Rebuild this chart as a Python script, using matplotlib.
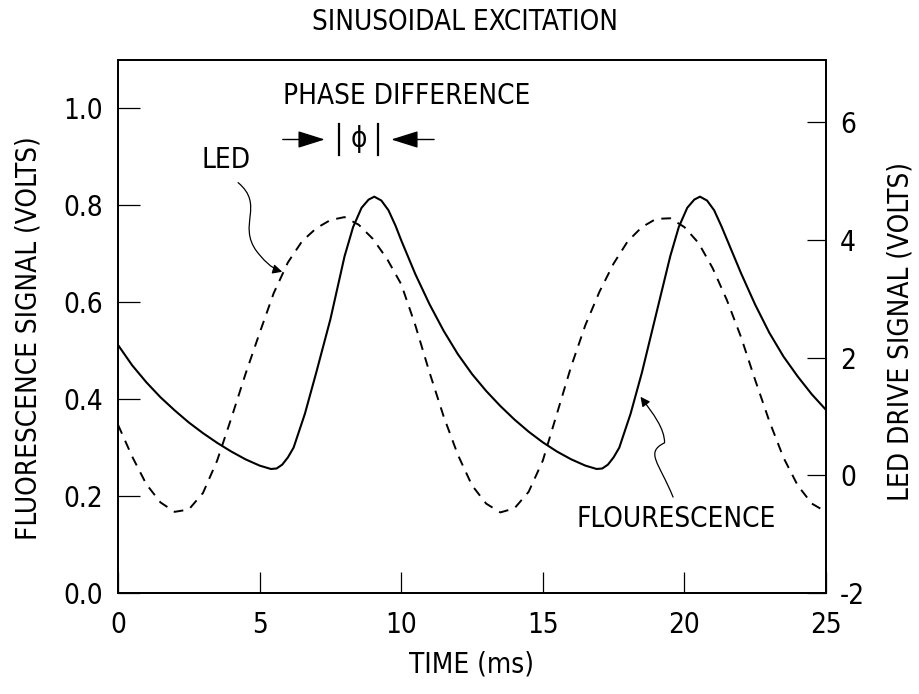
import matplotlib
matplotlib.use("Agg")
import matplotlib.pyplot as plt
from matplotlib import font_manager
from matplotlib.patches import FancyArrowPatch
from matplotlib.path import Path

# fluorescence signal (left axis, volts)
t_fl = [0.0, 0.5, 1.0, 1.5, 2.0, 2.5, 3.0, 3.5, 4.0, 4.5, 5.0, 5.4, 5.6, 5.8, 6.0,
        6.2, 6.6, 7.0, 7.5, 8.0, 8.3, 8.6, 8.85, 9.05, 9.3, 9.55, 9.8, 10.0, 10.5,
        11.0, 11.5, 12.0, 12.5, 13.0, 13.5, 14.0, 14.5, 15.0, 15.5, 16.0, 16.5, 16.9,
        17.1, 17.3, 17.5, 17.7, 18.1, 18.5, 19.0, 19.5, 19.8, 20.1, 20.35, 20.55,
        20.8, 21.05, 21.3, 21.5, 22.0, 22.5, 23.0, 23.5, 24.0, 24.5, 25.0]
fl = [0.512, 0.47, 0.435, 0.404, 0.377, 0.352, 0.330, 0.310, 0.292, 0.276, 0.263,
      0.256, 0.257, 0.265, 0.28, 0.30, 0.37, 0.455, 0.565, 0.695, 0.755, 0.795, 0.812,
      0.818, 0.81, 0.79, 0.758, 0.728, 0.658, 0.596, 0.541, 0.493, 0.452, 0.417,
      0.386, 0.358, 0.333, 0.311, 0.292, 0.276, 0.263, 0.256, 0.257, 0.265, 0.28,
      0.30, 0.37, 0.455, 0.575, 0.695, 0.755, 0.795, 0.812, 0.818, 0.81, 0.79, 0.758,
      0.73, 0.66, 0.595, 0.537, 0.488, 0.447, 0.41, 0.378]

# LED drive signal (right axis, volts)
t_led = [0.0, 0.5, 1.0, 1.5, 2.0, 2.5, 3.0, 3.5, 4.0, 4.5, 5.0, 5.5, 6.0, 6.5, 7.0,
         7.5, 8.0, 8.5, 9.0, 9.5, 10.0, 10.5, 11.0, 11.5, 12.0, 12.5, 13.0, 13.5,
         14.0, 14.5, 15.0, 15.5, 16.0, 16.5, 17.0, 17.5, 18.0, 18.5, 19.0, 19.5,
         20.0, 20.5, 21.0, 21.5, 22.0, 22.5, 23.0, 23.5, 24.0, 24.5, 25.0]
led = [0.86, 0.32, -0.15, -0.46, -0.62, -0.58, -0.30, 0.25, 0.97, 1.72, 2.42, 3.10,
       3.62, 3.98, 4.20, 4.34, 4.39, 4.26, 4.02, 3.68, 3.25, 2.55, 1.75, 1.00, 0.35,
       -0.17, -0.48, -0.63, -0.56, -0.28, 0.25, 1.05, 1.85, 2.55, 3.12, 3.60, 3.98,
       4.22, 4.36, 4.37, 4.22, 3.95, 3.52, 2.98, 2.35, 1.62, 0.92, 0.30, -0.17, -0.48,
       -0.62]

x_ticks = [0, 5, 10, 15, 20, 25]
left_ticks = [0.0, 0.2, 0.4, 0.6, 0.8, 1.0]
right_ticks = [-2, 0, 2, 4, 6]

names = {f.name for f in font_manager.fontManager.ttflist}
if "Liberation Sans Narrow" in names:
    plt.rcParams["font.family"] = ["Liberation Sans Narrow", "DejaVu Sans"]
else:
    plt.rcParams["font.family"] = ["DejaVu Sans"]
    plt.rcParams["font.stretch"] = "condensed"

fig = plt.figure(figsize=(9.19, 6.94), dpi=100)
ax = fig.add_axes([0.1284, 0.1455, 0.7704, 0.768])
ax2 = ax.twinx()

ax.plot(t_fl, fl, color="black", lw=1.5)
ax2.plot(t_led, led, color="black", lw=1.4, dashes=(5, 4))

ax.set_xlim(0, 25)
ax.set_ylim(0, 1.1)
ax2.set_ylim(-2, 7.06)

ax.set_xticks(x_ticks)
ax.set_xticklabels([str(v) for v in x_ticks])
ax.set_yticks(left_ticks)
ax.set_yticklabels([f"{v:.1f}" for v in left_ticks])
ax2.set_yticks(right_ticks)
ax2.set_yticklabels([str(v) for v in right_ticks])

ax.tick_params(axis="x", direction="in", length=15, width=0.9, pad=13, labelsize=20)
ax.tick_params(axis="y", direction="in", length=16, width=0.9, pad=11, labelsize=20)
ax2.tick_params(axis="y", direction="in", length=14, width=0.9, pad=10, labelsize=20)

for a in (ax, ax2):
    for s in a.spines.values():
        s.set_linewidth(1.3)

ax.set_xlabel("TIME (ms)", fontsize=20)
ax.xaxis.set_label_coords(0.5, -0.108)
ax.set_ylabel("FLUORESCENCE SIGNAL (VOLTS)", fontsize=20)
ax.yaxis.set_label_coords(-0.106, 0.478)
ax2.set_ylabel("LED DRIVE SIGNAL (VOLTS)", fontsize=20)
ax2.yaxis.set_label_coords(1.085, 0.49)

fig.text(0.506, 0.968, "SINUSOIDAL EXCITATION", ha="center", va="center", fontsize=20)

# phase difference marker
ax.text(10.2, 1.025, "PHASE DIFFERENCE", ha="center", va="center", fontsize=20)
ax.annotate("", xy=(7.4, 0.936), xytext=(5.72, 0.936),
            arrowprops=dict(arrowstyle="-|>,head_length=0.7,head_width=0.22",
                            color="black", lw=1.0, mutation_scale=24))
ax.annotate("", xy=(9.55, 0.936), xytext=(11.26, 0.936),
            arrowprops=dict(arrowstyle="-|>,head_length=0.7,head_width=0.22",
                            color="black", lw=1.0, mutation_scale=24))
ax.plot([7.8, 7.8], [0.903, 0.968], color="black", lw=1.6)
ax.plot([9.18, 9.18], [0.903, 0.968], color="black", lw=1.6)
ax.text(8.49, 0.936, "\u03d5", ha="center", va="center", fontsize=20,
        family=["DejaVu Sans"])

# curve labels with wavy leaders
ax.text(3.81, 0.893, "LED", ha="center", va="center", fontsize=20)
led_path = Path([(4.24, 0.847), (5.2, 0.80), (4.2, 0.76), (4.9, 0.705),
                 (5.1, 0.69), (5.4, 0.67), (5.8, 0.663)],
                [Path.MOVETO, Path.CURVE4, Path.CURVE4, Path.CURVE4,
                 Path.CURVE4, Path.CURVE4, Path.CURVE4])
ax.add_patch(FancyArrowPatch(path=led_path, arrowstyle="-|>", mutation_scale=14,
                             lw=0.9, color="black"))

ax.text(19.70, 0.153, "FLOURESCENCE", ha="center", va="center", fontsize=20)
fl_path = Path([(19.6, 0.198), (19.1, 0.27), (18.6, 0.29), (19.3, 0.31),
                (19.3, 0.34), (18.9, 0.37), (18.45, 0.405)],
               [Path.MOVETO, Path.CURVE4, Path.CURVE4, Path.CURVE4,
                Path.CURVE4, Path.CURVE4, Path.CURVE4])
ax.add_patch(FancyArrowPatch(path=fl_path, arrowstyle="-|>", mutation_scale=14,
                             lw=0.9, color="black"))

fig.savefig("out.png", dpi=100)
